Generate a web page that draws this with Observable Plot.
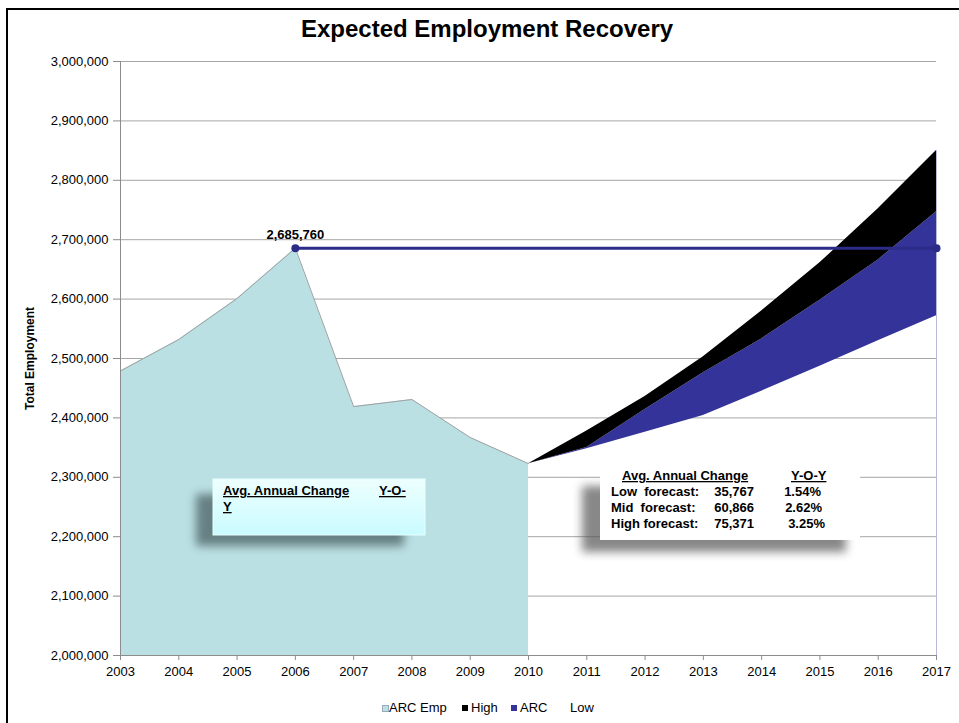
<!DOCTYPE html>
<html><head><meta charset="utf-8">
<script src="https://cdn.jsdelivr.net/npm/d3@7"></script>
<script src="https://cdn.jsdelivr.net/npm/@observablehq/plot@0.6"></script>
<style>
body{margin:0;background:#fff;}
#wrap{position:relative;width:959px;height:723px;overflow:hidden;font-family:"Liberation Sans",Arial,sans-serif;}
#frame{position:absolute;left:6px;top:8px;width:1000px;height:1000px;border-left:2px solid #000;border-top:2px solid #000;}
#chart{position:absolute;left:0;top:0;}
#title{position:absolute;left:0;width:974px;top:15px;text-align:center;font-weight:bold;font-size:24px;color:#000;}
.lg{position:absolute;top:700px;font-size:13px;line-height:16px;color:#000;white-space:nowrap;}
.sw{position:absolute;top:705px;width:6px;height:6px;}
</style></head><body>
<div id="wrap">
<div id="frame"></div>
<div id="chart"></div>
<div id="title">Expected Employment Recovery</div>
<div class="sw" style="left:382px;background:#bbe0e3;border:1px solid #9ab;width:5px;height:5px;"></div><div class="lg" style="left:389px;">ARC Emp</div>
<div class="sw" style="left:462px;background:#000;"></div><div class="lg" style="left:471px;">High</div>
<div class="sw" style="left:511px;background:#333399;"></div><div class="lg" style="left:520px;">ARC</div>
<div class="lg" style="left:570px;">Low</div>
</div>
<script>
const years = [2003,2004,2005,2006,2007,2008,2009,2010,2011,2012,2013,2014,2015,2016,2017];
const histYears = [2003,2004,2005,2006,2007,2008,2009,2010];
const arcEmp = [2479000,2532000,2601000,2685760,2419000,2431000,2367000,2323000];
const fcYears = [2010,2011,2012,2013,2014,2015,2016,2017];
const low  = [2323000,2348000,2376000,2404000,2445000,2487000,2530000,2572000];
const mid  = [2323000,2350000,2414000,2476000,2533000,2598000,2666000,2747000];
const high = [2323000,2378000,2436000,2503000,2580000,2661000,2752000,2850000];
const yTicks = [2000000,2100000,2200000,2300000,2400000,2500000,2600000,2700000,2800000,2900000,3000000];
const peakYears = [2006,2017];
const peakValue = 2685760;
const boxLeftHead = ["Avg. Annual Change","Y-O-","Y"];
const boxRightHead = ["Avg. Annual Change","Y-O-Y"];
const fcLabels = ["Low  forecast:","Mid  forecast:","High forecast:"];
const fcChange = ["35,767","60,866","75,371"];
const fcPct = ["1.54%","2.62%","3.25%"];

const hist = histYears.map((year,i)=>({year, value:arcEmp[i]}));
const fc = fcYears.map((year,i)=>({year, low:low[i], mid:mid[i], high:high[i]}));
const peak = peakYears.map(year=>({year, value:peakValue}));

const chart = Plot.plot({
  width:959, height:723,
  marginLeft:120, marginRight:23, marginTop:61, marginBottom:68,
  x:{domain:[2003,2017]},
  y:{domain:[2000000,3000000]},
  style:{fontFamily:"Liberation Sans, Arial, sans-serif", fontSize:"13px", color:"#000", background:"transparent", overflow:"visible"},
  marks:[
    Plot.ruleY(yTicks,{stroke:"#a6a6a6", strokeWidth:1}),
    Plot.areaY(hist,{x:"year", y1:2000000, y2:"value", fill:"#bbe0e3"}),
    Plot.lineY(hist,{x:"year", y:"value", stroke:"#a0a0a0", strokeWidth:1}),
    Plot.areaY(fc,{x:"year", y1:"low", y2:"mid", fill:"#333399"}),
    Plot.areaY(fc,{x:"year", y1:"mid", y2:"high", fill:"#000"}),
    Plot.ruleX([2017],{y1:2000000, y2:high[high.length-1], stroke:"#b8b8d8"}),
    Plot.ruleX([2003],{stroke:"#8c8c8c"}),
    Plot.ruleY([2000000],{stroke:"#8c8c8c"}),
    Plot.axisY({ticks:yTicks, tickFormat:d3.format(","), tickSize:7, tickPadding:5, stroke:"#8c8c8c", label:null}),
    Plot.axisX({ticks:years, tickFormat:d=>String(d), tickSize:5, tickPadding:6, stroke:"#8c8c8c", label:null}),
    Plot.line(peak,{x:"year", y:"value", stroke:"#2b2b88", strokeWidth:3}),
    Plot.dot(peak,{x:"year", y:"value", r:4, fill:"#2b2b88"}),
    Plot.text([peak[0]],{x:"year", y:"value", text:d=>d3.format(",")(d.value), dy:-13, fontWeight:"bold", fontSize:13}),
    Plot.text(["Total Employment"],{text:d=>d, frameAnchor:"left", textAnchor:"middle", dx:-90, rotate:-90, fontWeight:"bold", fontSize:12})
  ]
});
document.getElementById("chart").appendChild(chart);

// annotation boxes
const svg = d3.select(chart);
const defs = svg.append("defs");
const flt = defs.append("filter").attr("id","shblur").attr("x","-30%").attr("y","-30%").attr("width","160%").attr("height","160%");
flt.append("feGaussianBlur").attr("stdDeviation",5);
const grad = defs.append("linearGradient").attr("id","cyan").attr("x1",0).attr("y1",0).attr("x2",0).attr("y2",1);
grad.append("stop").attr("offset","0%").attr("stop-color","#eefffe");
grad.append("stop").attr("offset","100%").attr("stop-color","#c9fbff");

const ann = svg.append("g").attr("font-family","Liberation Sans, Arial, sans-serif").attr("font-size",13).attr("font-weight","bold").attr("text-anchor","start").attr("fill","#000");
// left box
ann.append("rect").attr("x",196).attr("y",494).attr("width",208).attr("height",52).attr("fill","#4a5f62").attr("opacity",0.75).attr("filter","url(#shblur)");
ann.append("rect").attr("x",213).attr("y",479).attr("width",212).attr("height",56).attr("fill","url(#cyan)").attr("stroke","#e8ffff").attr("stroke-width",1);
ann.append("text").attr("x",223).attr("y",495).attr("text-decoration","underline").text(boxLeftHead[0]);
ann.append("text").attr("x",379).attr("y",495).attr("text-decoration","underline").text(boxLeftHead[1]);
ann.append("text").attr("x",223).attr("y",511).attr("text-decoration","underline").text(boxLeftHead[2]);
// right box
ann.append("rect").attr("x",582).attr("y",486).attr("width",264).attr("height",66).attr("fill","#555").attr("opacity",0.7).attr("filter","url(#shblur)");
ann.append("rect").attr("x",600).attr("y",470).attr("width",260).attr("height",70).attr("fill","#fff");
ann.append("text").attr("x",622).attr("y",480).attr("text-decoration","underline").text(boxRightHead[0]);
ann.append("text").attr("x",791).attr("y",480).attr("text-decoration","underline").text(boxRightHead[1]);
fcLabels.forEach((t,i)=>{
  const yy = 496 + i*16;
  ann.append("text").attr("x",611).attr("y",yy).style("white-space","pre").text(t);
  ann.append("text").attr("x",754).attr("y",yy).attr("text-anchor","end").text(fcChange[i]);
  ann.append("text").attr("x",[821,822,825][i]).attr("y",yy).attr("text-anchor","end").text(fcPct[i]);
});
</script>
</body></html>
